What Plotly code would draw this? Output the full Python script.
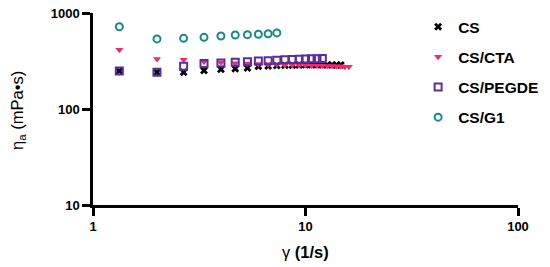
import plotly.graph_objects as go

shear = [1.33, 2, 2.67, 3.33, 4, 4.67, 5.33, 6, 6.67, 7.33, 8, 8.67,
         9.33, 10, 10.67, 11.33, 12, 12.67, 13.33, 14, 14.67, 15.33, 16]

cs = [249, 241, 241, 252, 259, 263, 267, 278, 280, 283, 285, 286, 287,
      288, 288, 288, 288, 288, 288, 287, 287]
cta = [415, 332, 326, 311, 305, 300, 297, 294, 292, 290, 288, 287, 286,
       285, 284, 283, 282, 281, 280, 279, 278, 276, 275]
pegde = [249, 241, 278, 298, 302, 306, 310, 316, 318, 322, 326, 328, 330,
         332, 333, 334, 335]
g1 = [720, 537, 545, 558, 576, 590, 595, 600, 608, 620]

series_names = ["CS", "CS/CTA", "CS/PEGDE", "CS/G1"]
series_values = [cs, cta, pegde, g1]
colors = ["#000000", "#F5286E", "#5A2CA0", "#17888A"]
symbols = ["x", "triangle-down", "square-open", "circle-open"]
sizes = [7, 7, 7, 7]

x_ticks = [1, 10, 100]
y_ticks = [10, 100, 1000]
x_title = "γ <b>(1/s)</b>"
y_title = "η<sub>a</sub> (mPa•s)"

fig = go.Figure()
for i, (name, vals) in enumerate(zip(series_names, series_values)):
    fig.add_trace(go.Scatter(
        x=shear[:len(vals)], y=vals, mode="markers", name=name,
        legendgroup=name,
        marker=dict(symbol=symbols[i], size=sizes[i], color=colors[i],
                    line=dict(width=2, color=colors[i]) if "open" in symbols[i] else dict(width=0)),
    ))

tick_font = dict(family="Liberation Sans", size=13, color="black", weight="bold")
fig.update_layout(
    width=550, height=267,
    margin=dict(l=93, r=32, t=13, b=62, autoexpand=False),
    plot_bgcolor="white", paper_bgcolor="white",
    font=dict(family="Liberation Sans", color="black"),
    showlegend=True,
    legend=dict(x=0.765, y=1.015, xanchor="left", yanchor="top",
                font=dict(family="Liberation Sans", size=15.5, color="black", weight="bold"),
                traceorder="grouped", tracegroupgap=7, bgcolor="rgba(0,0,0,0)"),
    xaxis=dict(type="log", range=[0, 2], showgrid=False, zeroline=False, automargin=False,
               showline=True, linewidth=2.5, linecolor="black",
               ticks="outside", ticklen=8, tickwidth=2.5, tickcolor="black",
               tickvals=x_ticks, ticktext=[str(v) for v in x_ticks], tickfont=tick_font),
    yaxis=dict(type="log", range=[1, 3], showgrid=False, zeroline=False, automargin=False,
               showline=True, linewidth=2.5, linecolor="black",
               ticks="outside", ticklen=8, tickwidth=2.5, tickcolor="black",
               tickvals=y_ticks, ticktext=[str(v) for v in y_ticks], tickfont=tick_font),
    annotations=[
        dict(text=x_title, xref="paper", yref="paper", x=0.499, y=-0.243,
             xanchor="center", yanchor="middle", showarrow=False,
             font=dict(family="Liberation Sans", size=16.5, color="black")),
        dict(text=y_title, xref="paper", yref="paper", x=-0.1765, y=0.495,
             xanchor="center", yanchor="middle", showarrow=False, textangle=-90,
             font=dict(family="Liberation Sans", size=16.5, color="black")),
    ],
)

fig.write_html("out.html", config={"displayModeBar": False},
               post_script="document.body.style.margin='0';")
